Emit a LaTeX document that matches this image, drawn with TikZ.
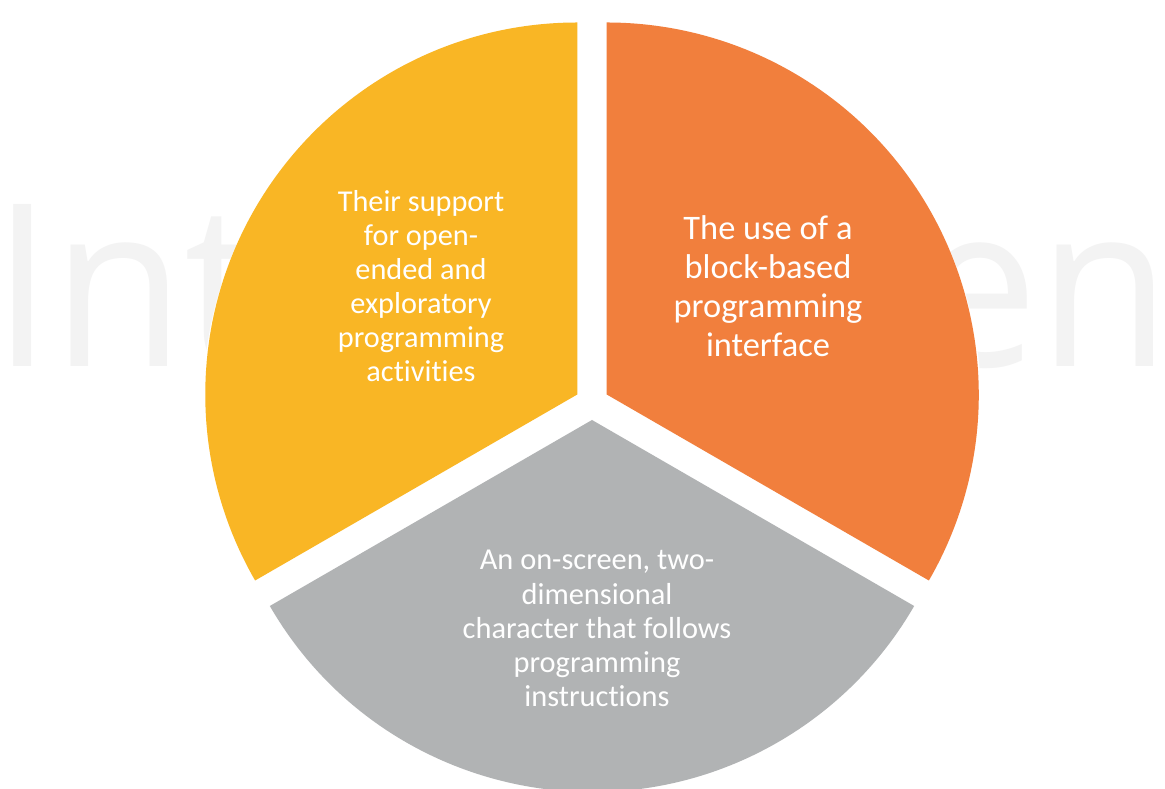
\documentclass[tikz,border=0pt]{standalone}
\usepackage{fontspec}
\setmainfont[Ligatures=CommonOff]{Carlito}
\newfontfamily\wmfont{Open Sans}
\definecolor{pieyellow}{HTML}{F9B625}
\definecolor{pieorange}{HTML}{F17F3D}
\definecolor{piegray}{HTML}{B1B3B4}
\definecolor{wmgray}{HTML}{F3F3F3}
\tikzset{
  watermark/.style={inner sep=0pt, text=wmgray, font=\wmfont\fontsize{227}{227}\selectfont},
  slicetext/.style={inner sep=0pt, text=white, align=center, anchor=base},
}
\begin{document}
\begin{tikzpicture}[x=1pt,y=1pt]
\useasboundingbox (0,0) rectangle (1165,789);
\fill[white] (0,0) rectangle (1165,789);
\node[watermark, anchor=base west, xscale=0.95] (wm) at (-8,422) {IntechOpen};
\coordinate (C) at (592,386);
\fill[white] (C) circle (389);
\coordinate (Y) at (577.28,394.5);
\coordinate (O) at (606.72,394.5);
\coordinate (G) at (592,369);
\fill[pieyellow] (Y) -- ++(90:372) arc[start angle=90, end angle=210, radius=372] -- cycle;
\fill[pieorange] (O) -- ++(-30:372) arc[start angle=-30, end angle=90, radius=372] -- cycle;
\fill[piegray] (G) -- ++(210:372) arc[start angle=210, end angle=330, radius=372] -- cycle;
\node[slicetext, font=\fontsize{30.3}{34}\selectfont] (ty) at (421,407)
  {Their support\\for open-\\ended and\\exploratory\\programming\\activities};
\node[slicetext, font=\fontsize{34.4}{39}\selectfont] (to) at (768,432)
  {The use of a\\block-based\\programming\\interface};
\node[slicetext, font=\fontsize{30.4}{34.25}\selectfont] (tg) at (597,82)
  {An on-screen, two-\\dimensional\\character that follows\\programming\\instructions};
\end{tikzpicture}
\end{document}
